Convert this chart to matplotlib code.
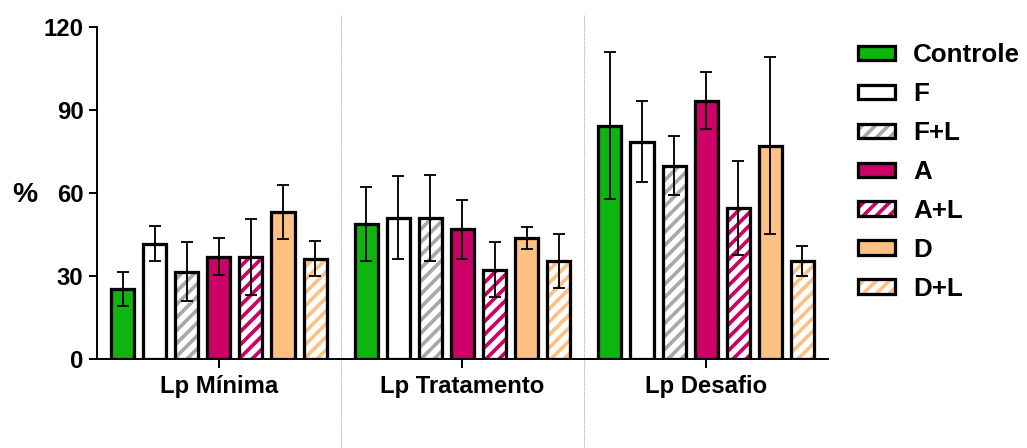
import matplotlib
matplotlib.use("Agg")
import matplotlib.pyplot as plt
from matplotlib.patches import Patch
from matplotlib.legend_handler import HandlerTuple
import numpy as np

# Data
groups = ["Lp Mínima", "Lp Tratamento", "Lp Desafio"]
series = ["Controle", "F", "F+L", "A", "A+L", "D", "D+L"]

controle = [25.4, 48.9, 84.3]
f_vals = [41.7, 51.1, 78.6]
fl_vals = [31.6, 51.1, 69.9]
a_vals = [37.0, 46.9, 93.4]
al_vals = [37.0, 32.3, 54.5]
d_vals = [53.1, 43.7, 77.1]
dl_vals = [36.3, 35.5, 35.4]

controle_err = [6.2, 13.4, 26.6]
f_err = [6.3, 15.1, 14.5]
fl_err = [10.8, 15.5, 10.7]
a_err = [6.8, 10.6, 10.2]
al_err = [13.7, 10.0, 16.9]
d_err = [9.8, 4.0, 31.9]
dl_err = [6.4, 9.8, 5.3]

values = [controle, f_vals, fl_vals, a_vals, al_vals, d_vals, dl_vals]
errors = [controle_err, f_err, fl_err, a_err, al_err, d_err, dl_err]

# Styling: (fill colour, stripe colour or None)
GREEN = "#10b410"
MAGENTA = "#cc0066"
ORANGE = "#ffc183"
GRAY = "#a9a9a9"
styles = [
    (GREEN, None),
    ("white", None),
    ("white", GRAY),
    (MAGENTA, None),
    ("white", MAGENTA),
    (ORANGE, None),
    ("white", ORANGE),
]

DPI = 78
plt.rcParams["font.family"] = ["Liberation Sans", "DejaVu Sans"]
plt.rcParams["font.weight"] = "bold"
plt.rcParams["hatch.linewidth"] = 3.4

fig = plt.figure(figsize=(1027 / DPI, 448 / DPI), dpi=DPI)
ax = fig.add_axes([97 / 1027, 1 - 359 / 448, (828 - 97) / 1027, (359 - 27) / 448])

x = np.arange(len(groups))
step = 0.1317
width = 0.095
edge_lw = 3.0
HATCH = "//"

for i, (vals, errs, (fc, sc)) in enumerate(zip(values, errors, styles)):
    pos = x + (i - 3) * step
    if sc is None:
        ax.bar(pos, vals, width, color=fc, edgecolor="black", linewidth=edge_lw, zorder=2)
    else:
        ax.bar(pos, vals, width, color="white", edgecolor=sc, hatch=HATCH, linewidth=0, zorder=2)
        ax.bar(pos, vals, width, fill=False, edgecolor="black", linewidth=edge_lw, zorder=3)
    ax.errorbar(pos, vals, yerr=errs, fmt="none", ecolor="black", elinewidth=1.7,
                capsize=5.5, capthick=1.7, zorder=4)

ax.set_xlim(-0.5, 2.5)
ax.set_ylim(0, 120)
ax.set_yticks([0, 30, 60, 90, 120])
ax.set_xticks(x)
ax.set_xticklabels(groups)

for s in ["top", "right"]:
    ax.spines[s].set_visible(False)
for s in ["left", "bottom"]:
    ax.spines[s].set_linewidth(1.8)

ax.tick_params(axis="y", length=7.5, width=1.8, pad=5, labelsize=22)
ax.tick_params(axis="x", length=8.5, width=1.8, pad=6, labelsize=22)
for lab in ax.get_xticklabels() + ax.get_yticklabels():
    lab.set_fontweight("bold")

# dotted separators between groups
for xs in [0.5, 1.5]:
    ax.plot([xs, xs], [-0.27, 1.036], transform=ax.get_xaxis_transform(),
            color="#a0a0a0", linestyle=(0, (1, 1)), linewidth=0.9,
            clip_on=False, zorder=1)

fig.text(25 / 1027, 1 - 195 / 448, "%", fontsize=26, fontweight="bold",
         ha="center", va="center")

# legend
handles = []
for fc, sc in styles:
    if sc is None:
        handles.append(Patch(facecolor=fc, edgecolor="black", linewidth=edge_lw))
    else:
        handles.append((Patch(facecolor="white", edgecolor=sc, hatch=HATCH, linewidth=0),
                        Patch(fill=False, edgecolor="black", linewidth=edge_lw)))

leg = fig.legend(handles, series, loc="upper left",
                 bbox_to_anchor=(858 / 1027, 1 - 43 / 448),
                 frameon=False, fontsize=24, handlelength=1.42, handleheight=0.46,
                 handletextpad=0.7, labelspacing=0.575, borderpad=0, borderaxespad=0,
                 handler_map={tuple: HandlerTuple(ndivide=1, pad=0)})
for t in leg.get_texts():
    t.set_fontweight("bold")

fig.savefig("out.png", dpi=DPI)
